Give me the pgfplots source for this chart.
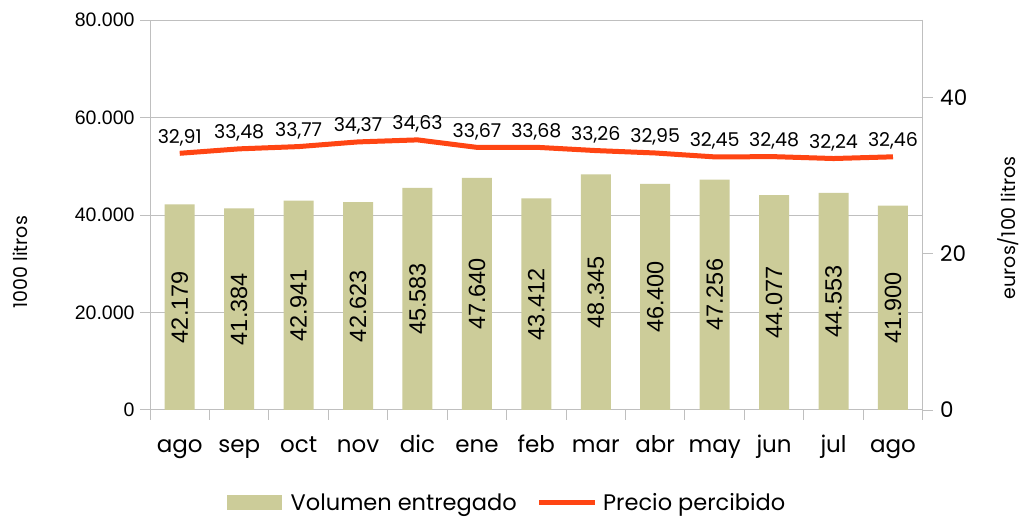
\documentclass[border=0pt]{standalone}
\usepackage{pgfplots}
\usepackage{pgfplotstable}
\pgfplotsset{compat=1.18}
\usepackage{fontspec}
\setmainfont{Poppins}
\newfontfamily\arialfont{Liberation Sans}
\definecolor{barc}{RGB}{204,204,153}
\definecolor{linec}{RGB}{255,69,19}
\definecolor{axc}{RGB}{191,191,191}

\pgfplotstableread{
x vol lab prec plab
0 42179 42.179 32.91 32,91
1 41384 41.384 33.48 33,48
2 42941 42.941 33.77 33,77
3 42623 42.623 34.37 34,37
4 45583 45.583 34.63 34,63
5 47640 47.640 33.67 33,67
6 43412 43.412 33.68 33,68
7 48345 48.345 33.26 33,26
8 46400 46.400 32.95 32,95
9 47256 47.256 32.45 32,45
10 44077 44.077 32.48 32,48
11 44553 44.553 32.24 32,24
12 41900 41.900 32.46 32,46
}\data

\begin{document}
\begin{tikzpicture}
\useasboundingbox[fill=white] (0,0) rectangle (1023pt,517pt);
\begin{axis}[
  at={(150pt,107pt)}, anchor=south west,
  width=772.7pt, height=390pt, scale only axis,
  xmin=-0.5, xmax=12.5, ymin=0, ymax=80000,
  scaled y ticks=false,
  axis line style={axc, line width=1pt},
  ytick={0,20000,40000,60000,80000},
  yticklabels={0,20.000,40.000,60.000,80.000},
  y tick label style={font=\arialfont\fontsize{19.5}{22}\selectfont, xshift=-2pt},
  /pgf/number format/assume math mode=true,
  ymajorgrids, grid style={axc, line width=1pt},
  ytick pos=left, xtick pos=bottom, tick align=outside, major tick length=10pt,
  tick style={axc, line width=1pt},
  xtick={-0.5,0.5,...,12.5}, xticklabels={},
  extra x ticks={0,1,2,3,4,5,6,7,8,9,10,11,12},
  extra x tick labels={ago,sep,oct,nov,dic,ene,feb,mar,abr,may,jun,jul,ago},
  extra x tick style={major tick length=0pt, grid=none,
     tick label style={font=\fontsize{23}{26}\selectfont, anchor=base, yshift=-42pt}},
  ylabel={1000 litros},
  ylabel style={at={(axis description cs:-0.168,0.379)}, anchor=center, font=\fontsize{19}{22}\selectfont},
]
\addplot[ybar, bar width=30pt, fill=barc, draw=none] table[x=x,y=vol]{\data};
\addplot[draw=none, nodes near coords, point meta=explicit symbolic,
  nodes near coords style={rotate=90, anchor=center, font=\arialfont\fontsize{23.5}{26}\selectfont, text=black}]
  table[x=x, y expr=\thisrow{vol}/2, meta=lab]{\data};
\end{axis}
\begin{axis}[
  at={(150pt,107pt)}, anchor=south west,
  width=772.7pt, height=390pt, scale only axis,
  xmin=-0.5, xmax=12.5, ymin=0, ymax=50,
  hide x axis,
  axis line style={axc, line width=1pt},
  ytick={0,20,40}, ytick pos=right, tick align=outside, major tick length=10pt,
  tick style={axc, line width=1pt},
  /pgf/number format/assume math mode=true,
  y tick label style={font=\fontsize{21.5}{24}\selectfont, xshift=4pt},
  ylabel={euros/100 litros},
  ylabel style={at={(axis description cs:1.110,0.467)}, anchor=center, rotate=0, font=\fontsize{19}{22}\selectfont},
  legend style={at={(0.462,-0.238)}, anchor=center, draw=none, fill=none,
     legend columns=2, font=\fontsize{22.5}{25}\selectfont,
     /tikz/every even column/.append style={column sep=18pt}},
]
\addlegendimage{legend image code/.code={\fill[barc, draw=none] (0pt,-7.5pt) rectangle (55pt,7.5pt); \path[draw=none, fill=none] (0pt,0pt) -- (62pt,0pt);}}
\addlegendentry{Volumen entregado}
\addlegendimage{legend image code/.code={\draw[linec, line width=5pt] (0pt,0pt) -- (56pt,0pt); \path[draw=none, fill=none] (0pt,0pt) -- (62pt,0pt);}}
\addlegendentry{Precio percibido}
\addplot[forget plot, linec, line width=5pt, line join=round, nodes near coords, point meta=explicit symbolic,
  nodes near coords style={anchor=south, yshift=4pt, inner sep=1pt, font=\fontsize{19}{22}\selectfont, text=black}]
  table[x=x, y=prec, meta=plab]{\data};
\end{axis}
\end{tikzpicture}
\end{document}
